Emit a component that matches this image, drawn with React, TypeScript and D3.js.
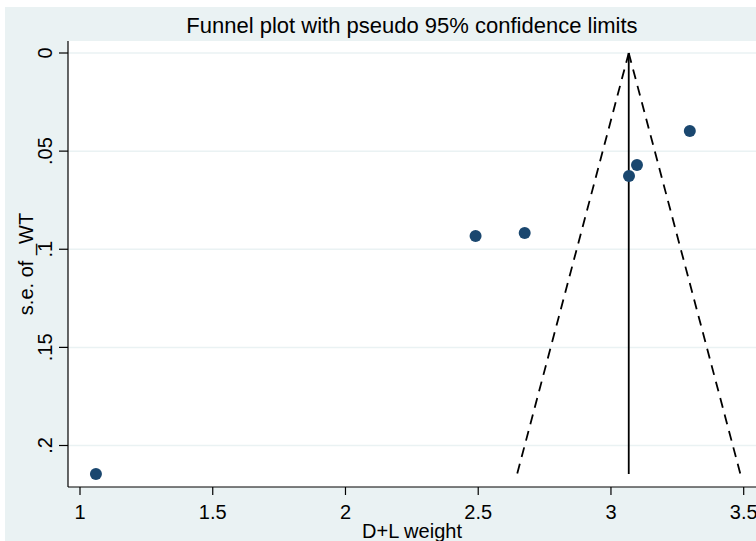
import React from "react";
import * as d3 from "d3";

// Study estimates: D+L weight and its standard error
const weights = [1.06, 2.49, 2.675, 3.068, 3.098, 3.297];
const stdErrors = [0.2145, 0.0933, 0.0917, 0.0627, 0.0571, 0.0397];

// Pooled estimate and funnel limits
const pooled = 3.067;
const zCrit = 1.96;

const xTicks = [1, 1.5, 2, 2.5, 3, 3.5];
const xTickLabels = ["1", "1.5", "2", "2.5", "3", "3.5"];
const yTicks = [0, 0.05, 0.1, 0.15, 0.2];
const yTickLabels = ["0", ".05", ".1", ".15", ".2"];

const title = "Funnel plot with pseudo 95% confidence limits";
const xTitle = "D+L weight";
const yTitle = "s.e. of _WT";

const W = 756;
const H = 541;
const FONT = "'Liberation Sans', Arial, sans-serif";

export default function App() {
  const x = d3.scaleLinear().domain([1, 3.5]).range([80, 743.7]);
  const y = d3.scaleLinear().domain([0, 0.2]).range([53, 445.5]);

  const plotLeft = 68;
  const plotTop = 41;
  const plotBottom = 487;

  const seMax = d3.max(stdErrors) as number;
  const line = d3
    .line<[number, number]>()
    .x((d) => x(d[0]))
    .y((d) => y(d[1]));

  const leftLimit: [number, number][] = [
    [pooled, 0],
    [pooled - zCrit * seMax, seMax],
  ];
  const rightLimit: [number, number][] = [
    [pooled, 0],
    [pooled + zCrit * seMax, seMax],
  ];
  const centre: [number, number][] = [
    [pooled, 0],
    [pooled, seMax],
  ];

  return (
    <svg
      width={W}
      height={H}
      style={{ position: "absolute", left: 0, top: 0, display: "block" }}
      fontFamily={FONT}
    >
      <rect x={0} y={0} width={W} height={H} fill="#ffffff" />
      <rect x={5} y={7} width={W - 5} height={H - 7} fill="#EAF2F3" />
      <rect
        x={plotLeft}
        y={plotTop}
        width={W - plotLeft}
        height={plotBottom - plotTop}
        fill="#ffffff"
      />

      {/* horizontal gridlines */}
      {yTicks.map((t) => (
        <line
          key={"g" + t}
          x1={plotLeft}
          x2={W}
          y1={y(t)}
          y2={y(t)}
          stroke="#EAF2F3"
          strokeWidth={1.5}
        />
      ))}

      {/* funnel */}
      <path
        d={line(leftLimit) || ""}
        fill="none"
        stroke="#000"
        strokeWidth={1.8}
        strokeDasharray="10 7"
      />
      <path
        d={line(rightLimit) || ""}
        fill="none"
        stroke="#000"
        strokeWidth={1.8}
        strokeDasharray="10 7"
      />
      <path d={line(centre) || ""} fill="none" stroke="#000" strokeWidth={1.8} />

      {/* studies */}
      {weights.map((w, i) => (
        <circle key={"p" + i} cx={x(w)} cy={y(stdErrors[i])} r={6} fill="#1A476F" />
      ))}

      {/* axes */}
      <line x1={plotLeft} x2={plotLeft} y1={plotTop} y2={plotBottom} stroke="#000" strokeWidth={1.2} />
      <line x1={plotLeft} x2={W} y1={plotBottom} y2={plotBottom} stroke="#000" strokeWidth={1.2} />

      {yTicks.map((t, i) => (
        <g key={"yt" + t}>
          <line x1={plotLeft - 9} x2={plotLeft} y1={y(t)} y2={y(t)} stroke="#000" strokeWidth={1.2} />
          <text
            transform={`translate(52,${y(t)}) rotate(-90)`}
            textAnchor="middle"
            fontSize={20}
            fill="#000"
          >
            {yTickLabels[i]}
          </text>
        </g>
      ))}

      {xTicks.map((t, i) => (
        <g key={"xt" + t}>
          <line x1={x(t)} x2={x(t)} y1={plotBottom} y2={plotBottom + 8} stroke="#000" strokeWidth={1.2} />
          <text x={x(t)} y={519} textAnchor="middle" fontSize={20} fill="#000">
            {xTickLabels[i]}
          </text>
        </g>
      ))}

      <text x={412} y={538} textAnchor="middle" fontSize={20} fill="#000">
        {xTitle}
      </text>
      <text
        transform={`translate(33,${(plotTop + plotBottom) / 2}) rotate(-90)`}
        textAnchor="middle"
        fontSize={20}
        fill="#000"
      >
        {yTitle}
      </text>
      <text x={412} y={33} textAnchor="middle" fontSize={22} fill="#000">
        {title}
      </text>
    </svg>
  );
}
